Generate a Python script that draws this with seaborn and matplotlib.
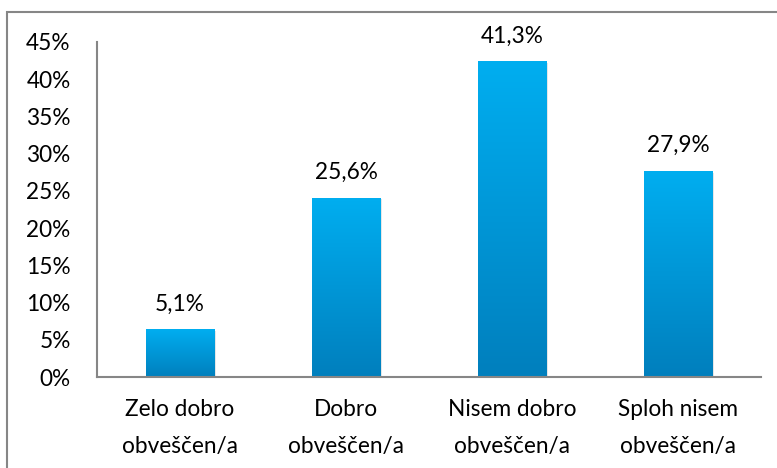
import numpy as np
import matplotlib
matplotlib.use("Agg")
import matplotlib.pyplot as plt
import seaborn as sns
import pandas as pd
from matplotlib.patches import Rectangle
from matplotlib.ticker import FuncFormatter

categories = ["Zelo dobro\nobveščen/a", "Dobro\nobveščen/a",
              "Nisem dobro\nobveščen/a", "Sploh nisem\nobveščen/a"]
# bar heights as drawn in the picture, and the labels printed above them
heights = [6.4, 24.1, 42.4, 27.7]
labels = ["5,1%", "25,6%", "41,3%", "27,9%"]
yticks = [0, 5, 10, 15, 20, 25, 30, 35, 40, 45]

sns.set_theme(style="white")
plt.rcParams['font.family'] = ['Lato', 'DejaVu Sans']

FS = 16.3

df = pd.DataFrame({"cat": categories, "val": heights})

fig = plt.figure(figsize=(7.77, 4.68), dpi=100)
ax = fig.add_axes([0.1248, 0.1944, 0.9794 - 0.1248, 0.9103 - 0.1944])

sns.barplot(data=df, x="cat", y="val", color="#00a6e6", width=0.41,
            saturation=1, ax=ax)

# gradient fill over each bar (light cyan at top, deeper blue at bottom)
grad = np.linspace(0, 1, 256).reshape(-1, 1)
cmap = matplotlib.colors.LinearSegmentedColormap.from_list(
    "bar", ["#007fbd", "#00aef0"])
for p in list(ax.patches):
    x0, y0 = p.get_x(), p.get_y()
    w, h = p.get_width(), p.get_height()
    # soft shadow
    sh = Rectangle((x0 + 0.012, y0 - 0.25), w, h, facecolor="#000000",
                   alpha=0.12, edgecolor="none", zorder=1)
    ax.add_patch(sh)
    im = ax.imshow(grad, extent=[x0, x0 + w, y0, y0 + h], origin="lower",
                   cmap=cmap, aspect="auto", zorder=3)
    im.set_clip_path(p)
    p.set_zorder(2)

for i, (hv, lab) in enumerate(zip(heights, labels)):
    ax.annotate(lab, (i, hv), xytext=(0, 13.5), textcoords="offset points",
                ha="center", va="baseline", fontsize=FS, color="#000000")

ax.set_xlim(-0.5, 3.5)
ax.set_ylim(0, 45)
ax.set_yticks(yticks)
ax.yaxis.set_major_formatter(FuncFormatter(lambda v, _: f"{int(v)}%"))
ax.set_xlabel("")
ax.set_ylabel("")
ax.tick_params(axis="y", length=0, pad=19, labelsize=FS, colors="#000000")
ax.tick_params(axis="x", length=0, pad=15.5, labelsize=FS, colors="#000000")
for t in ax.get_xticklabels():
    t.set_linespacing(1.95)

for s in ["top", "right"]:
    ax.spines[s].set_visible(False)
for s in ["left", "bottom"]:
    ax.spines[s].set_color("#868686")
    ax.spines[s].set_linewidth(1.5)
    ax.spines[s].set_zorder(4)

# outer chart border (partially cut off by the image edges)
frame = Rectangle((7 / 777, -0.05), 1.0, (468 - 12) / 468 + 0.05,
                  transform=fig.transFigure, fill=False,
                  edgecolor="#868686", linewidth=1.5)
fig.add_artist(frame)

fig.savefig("out.png", dpi=100)
